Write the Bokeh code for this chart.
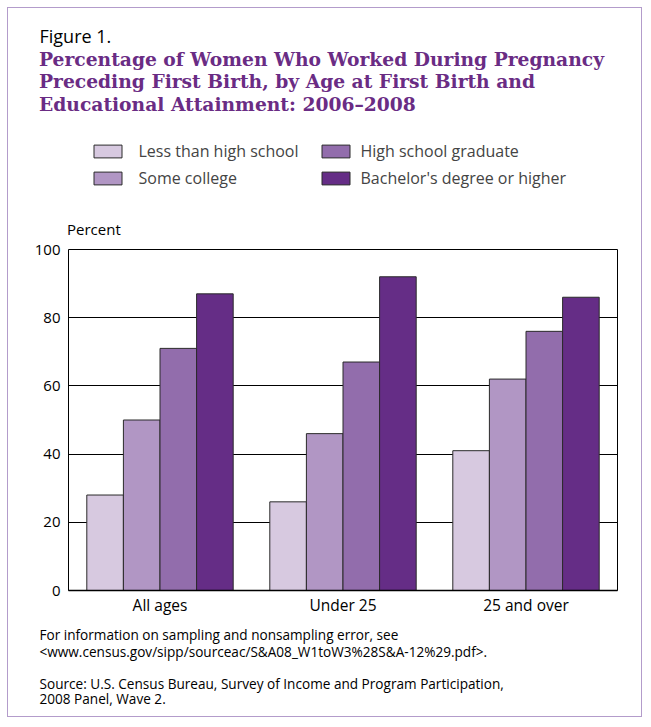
from bokeh.plotting import figure
from bokeh.layouts import column
from bokeh.models import FactorRange, Range1d, Label, Legend, LegendItem, FixedTicker, ColumnDataSource
from bokeh.transform import dodge
from bokeh.embed import file_html
from bokeh.resources import INLINE

categories = ["All ages", "Under 25", "25 and over"]
less_than_hs = [28, 26, 41]
some_college = [50, 46, 62]
hs_graduate = [71, 67, 76]
bachelors = [87, 92, 86]
y_ticks = [0, 20, 40, 60, 80, 100]

series_names = ["Less than high school", "Some college", "High school graduate", "Bachelor's degree or higher"]
colors = ["#D7C9E0", "#B196C4", "#926DAC", "#652D86"]
offsets = [-0.3, -0.1, 0.1, 0.3]

figure_label = "Figure 1."
title_lines = ["Percentage of Women Who Worked During Pregnancy",
               "Preceding First Birth, by Age at First Birth and",
               "Educational Attainment: 2006\u20132008"]
y_axis_label = "Percent"
foot_lines = ["For information on sampling and nonsampling error, see",
              "<www.census.gov/sipp/sourceac/S&A08_W1toW3%28S&A-12%29.pdf>.",
              "Source: U.S. Census Bureau, Survey of Income and Program Participation,",
              "2008 Panel, Wave 2."]

SANS = "Open Sans"
SERIF = "DejaVu Serif"
PURPLE = "#6A2C84"
LINE = "#2a2a2a"

W = 649
TOP_H = 239
MAIN_H = 379
BOT_H = 106
SHIFT = 0.38  # baseline correction, in em


def text_panel(h):
    f = figure(width=W, height=h, x_range=Range1d(0, W), y_range=Range1d(h, 0),
               x_axis_type=None, y_axis_type=None, output_backend="svg", toolbar_location=None,
               min_border=0, min_border_left=0, min_border_right=0, min_border_top=0, min_border_bottom=0,
               frame_align=False)
    f.outline_line_color = None
    f.background_fill_color = None
    f.border_fill_color = None
    f.grid.visible = False
    return f


def add_text(f, txt, x, y, size, font=SANS, style="normal", color="black"):
    f.add_layout(Label(x=x, y=y - SHIFT * size, text=txt, text_font=font, text_font_size="%.1fpx" % size,
                       text_font_style=style, text_color=color,
                       text_baseline="alphabetic", text_align="left"))


# ---- top panel: titles, legend, axis label
top = text_panel(TOP_H)
add_text(top, figure_label, 39, 42.3, 18)
for k, t in enumerate(title_lines):
    add_text(top, t, 38.5, 65.3 + 22.5 * k, 18.7, font=SERIF, style="bold", color=PURPLE)
add_text(top, y_axis_label, 66.5, 234, 15)

nan = float("nan")
swatches = []
for name, col in zip(series_names, colors):
    # legend proxies only (no visible data)
    swatches.append(top.vbar(x=[nan], top=[nan], width=0.2, fill_color=col, line_color=LINE, line_width=1))

for idxs, lx, standoff in [([0, 1], 89.5, 14), ([2, 3], 317.5, 8)]:
    items = [LegendItem(label=series_names[k], renderers=[swatches[k]]) for k in idxs]
    lg = Legend(items=items, location=(lx, TOP_H - 188.5), orientation="vertical",
                glyph_width=35, glyph_height=16, label_standoff=standoff, spacing=5,
                padding=0, margin=0, border_line_color=None, background_fill_color=None,
                background_fill_alpha=0, label_text_font=SANS, label_text_font_size="16px",
                label_height=20)
    top.add_layout(lg, "center")

# ---- main chart
source = ColumnDataSource(data=dict(cat=categories, s0=less_than_hs, s1=some_college,
                                    s2=hs_graduate, s3=bachelors))
p = figure(x_range=FactorRange(*categories), y_range=Range1d(0, 100),
           width=W, height=MAIN_H, output_backend="svg", toolbar_location=None,
           min_border_left=68, min_border_right=32, min_border_top=10, min_border_bottom=28,
           frame_align=False)
p.background_fill_color = None
p.border_fill_color = None
for i, col in enumerate(colors):
    p.vbar(x=dodge("cat", offsets[i], range=p.x_range), top="s%d" % i, width=0.2, source=source,
           fill_color=col, line_color=LINE, line_width=1)

p.outline_line_color = "black"
p.outline_line_width = 1
p.xgrid.grid_line_color = None
p.ygrid.grid_line_color = "black"
p.ygrid.grid_line_width = 1
p.ygrid.ticker = FixedTicker(ticks=y_ticks)

p.yaxis.ticker = FixedTicker(ticks=y_ticks)
p.yaxis.axis_line_color = None
p.yaxis.major_tick_line_color = None
p.yaxis.minor_tick_line_color = None
p.yaxis.major_tick_out = 0
p.yaxis.major_tick_in = 0
p.yaxis.major_label_standoff = 8
p.yaxis.major_label_text_font = SANS
p.yaxis.major_label_text_font_size = "15px"
p.yaxis.major_label_text_color = "black"

p.xaxis.axis_line_color = "black"
p.xaxis.axis_line_width = 1.5
p.xaxis.major_tick_line_color = None
p.xaxis.major_tick_out = 0
p.xaxis.major_tick_in = 0
p.xaxis.major_label_standoff = 3
p.xaxis.major_label_text_font = SANS
p.xaxis.major_label_text_font_size = "15.5px"
p.xaxis.major_label_text_color = "black"

# ---- bottom panel: notes
bot = text_panel(BOT_H)
for t, yy in zip(foot_lines, [639.3, 656.3, 688.3, 703.5]):
    add_text(bot, t, 39, yy - (TOP_H + MAIN_H), 13.6)

layout = column(top, p, bot, spacing=0,
                styles={"outline": "1.5px solid #B39CCB", "outline-offset": "-8.5px",
                        "background-color": "white"})

open("out.html", "w").write(file_html(layout, INLINE))
